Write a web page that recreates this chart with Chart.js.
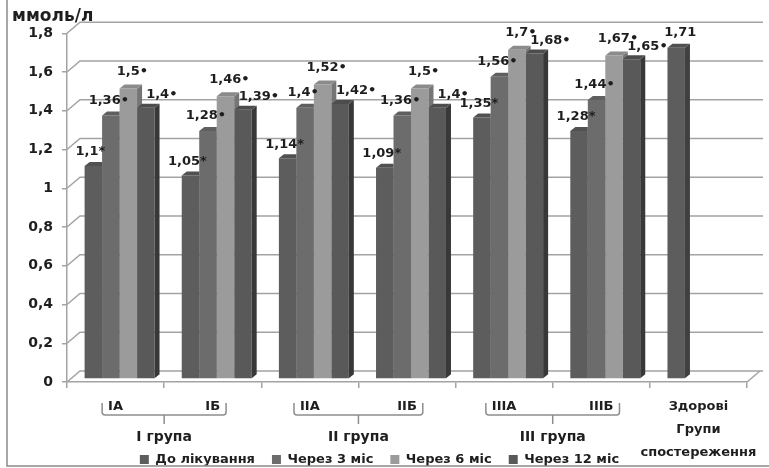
<!DOCTYPE html>
<html>
<head>
<meta charset="utf-8">
<script src="https://cdn.jsdelivr.net/npm/chart.js@4.4.1/dist/chart.umd.min.js"></script>
<style>
  html, body { margin: 0; padding: 0; background: #fff; }
  #wrap { width: 769px; height: 468px; position: relative; }
</style>
</head>
<body>
<div id="wrap"><canvas id="chart" width="769" height="468"></canvas></div>
<script>
// Categories on the x axis and their grouping
const categories = ['IA', 'IБ', 'IIA', 'IIБ', 'IIIA', 'IIIБ', 'Здорові'];
const lastCategoryLines = ['Здорові', 'Групи', 'спостереження'];
const groupNames = ['I група', 'II група', 'III група'];
const groupSpans = [[0, 1], [2, 3], [4, 5]];

// Series (ммоль/л)
const seriesNames = ['До лікування', 'Через 3 міс', 'Через 6 міс', 'Через 12 міс'];
const beforeTreatment = [1.1, 1.05, 1.14, 1.09, 1.35, 1.28, 1.71];
const after3Months = [1.36, 1.28, 1.4, 1.36, 1.56, 1.44, null];
const after6Months = [1.5, 1.46, 1.52, 1.5, 1.7, 1.67, null];
const after12Months = [1.4, 1.39, 1.42, 1.4, 1.68, 1.65, null];

// Significance marks appended to the value labels
const beforeMarks = ['*', '*', '*', '*', '*', '*', ''];
const after3Marks = ['•', '•', '•', '•', '•', '•', ''];
const after6Marks = ['•', '•', '•', '•', '•', '•', ''];
const after12Marks = ['•', '•', '•', '•', '•', '•', ''];

// Value axis
const yMin = 0;
const yMax = 1.8;
const yStep = 0.2;
const yUnit = 'ммоль/л';

const FONT = 'DejaVu Sans';
const TEXT = '#1e1e1e';
const LINE = '#a3a3a3';

// Bar colours: front, top face, side face
const palette = [
  { front: '#5d5d5d', top: '#515151', side: '#404040' },
  { front: '#6c6c6c', top: '#5f5f5f', side: '#4a4a4a' },
  { front: '#9b9b9b', top: '#8b8b8b', side: '#757575' },
  { front: '#595959', top: '#4d4d4d', side: '#383838' }
];
// Offset of each series' value label from its bar top
const labelNudgeX = [-5, -4, 2, 14];
const labelLiftY = [14, 15, 17, 13];

const seriesValues = [beforeTreatment, after3Months, after6Months, after12Months];
const seriesMarks = [beforeMarks, after3Marks, after6Marks, after12Marks];

// Perspective depth of the box (back wall) and of the bars
const WALL = { dx: 13, dy: 11 };
const BAR_SHIFT = { dx: 4, dy: 3 };
const BAR_DEPTH = { dx: 5, dy: 4 };

const fmt = v => String(Math.round(v * 100) / 100).replace('.', ',');

// Back wall grid, floor and depth shift for the bars
const boxPlugin = {
  id: 'box3d',
  beforeDatasetsDraw(chart) {
    const { ctx, chartArea: a, scales: { y } } = chart;
    ctx.save();
    ctx.strokeStyle = LINE;
    ctx.lineWidth = 1.5;
    y.ticks.forEach(t => {
      const py = y.getPixelForValue(t.value);
      ctx.beginPath();
      ctx.moveTo(a.left, py);
      ctx.lineTo(a.left + WALL.dx, py - WALL.dy);
      ctx.lineTo(a.right + WALL.dx + 3, py - WALL.dy);
      ctx.stroke();
    });
    const p0 = y.getPixelForValue(0);
    ctx.beginPath();
    ctx.moveTo(a.right, p0);
    ctx.lineTo(a.right + WALL.dx, p0 - WALL.dy);
    ctx.stroke();
    ctx.restore();

    ctx.save();
    ctx.translate(BAR_SHIFT.dx, -BAR_SHIFT.dy);
  },
  afterDatasetsDraw(chart) {
    const { ctx } = chart;
    const metas = chart.data.datasets.map((d, i) => chart.getDatasetMeta(i));
    const W = chart.width, H = chart.height;

    categories.forEach((c, ci) => {
      const bars = [];
      metas.forEach((m, si) => {
        const v = chart.data.datasets[si].data[ci];
        if (v === null || v === undefined) return;
        const p = m.data[ci].getProps(['x', 'y', 'base', 'width'], true);
        bars.push({ si, ...p });
      });
      bars.forEach((b, k) => {
        const l = b.x - b.width / 2, r = b.x + b.width / 2;
        const next = bars[k + 1];
        const col = palette[b.si];
        ctx.save();
        if (next) {
          ctx.beginPath();
          ctx.rect(-20, -20, W + 40, H + 40);
          ctx.rect(next.x - next.width / 2, next.y, next.width, next.base - next.y);
          ctx.clip('evenodd');
        }
        // side face
        ctx.fillStyle = col.side;
        ctx.beginPath();
        ctx.moveTo(r, b.y);
        ctx.lineTo(r + BAR_DEPTH.dx, b.y - BAR_DEPTH.dy);
        ctx.lineTo(r + BAR_DEPTH.dx, b.base - BAR_DEPTH.dy);
        ctx.lineTo(r, b.base);
        ctx.closePath();
        ctx.fill();
        // top face
        ctx.fillStyle = col.top;
        ctx.beginPath();
        ctx.moveTo(l, b.y);
        ctx.lineTo(l + BAR_DEPTH.dx, b.y - BAR_DEPTH.dy);
        ctx.lineTo(r + BAR_DEPTH.dx, b.y - BAR_DEPTH.dy);
        ctx.lineTo(r, b.y);
        ctx.closePath();
        ctx.fill();
        ctx.restore();
      });
    });

    // value labels
    ctx.save();
    ctx.font = 'bold 13px "' + FONT + '"';
    ctx.fillStyle = TEXT;
    ctx.textAlign = 'center';
    ctx.textBaseline = 'middle';
    metas.forEach((m, si) => {
      m.data.forEach((el, ci) => {
        const v = seriesValues[si][ci];
        if (v === null || v === undefined) return;
        const label = fmt(v) + seriesMarks[si][ci];
        const last = ci === categories.length - 1;
        const nx = last ? 2 : labelNudgeX[si];
        const ly = last ? 15 : labelLiftY[si];
        ctx.fillText(label, el.x + nx + 2, el.y - ly);
      });
    });
    ctx.restore();

    ctx.restore();
  }
};

// Two-level category labels, brackets and outer frame
const labelsPlugin = {
  id: 'groupLabels',
  afterDraw(chart) {
    const { ctx, chartArea: a, scales: { x } } = chart;
    const b = a.bottom;
    ctx.save();
    ctx.fillStyle = TEXT;
    ctx.textAlign = 'center';
    ctx.textBaseline = 'middle';
    ctx.font = 'bold 13px "' + FONT + '"';
    categories.forEach((c, i) => {
      const px = x.getPixelForValue(i);
      if (i === categories.length - 1) {
        lastCategoryLines.forEach((t, j) => ctx.fillText(t, px, b + 25 + j * 23));
      } else {
        ctx.fillText(c, px, b + 25);
      }
    });

    ctx.strokeStyle = '#8d8d8d';
    ctx.lineWidth = 1.5;
    groupSpans.forEach(([i0, i1], g) => {
      const c0 = x.getPixelForValue(i0), c1 = x.getPixelForValue(i1);
      const x0 = c0 - ctx.measureText(categories[i0]).width / 2 - 6;
      const x1 = c1 + ctx.measureText(categories[i1]).width / 2 + 6;
      const yTop = b + 21, yLine = b + 33, rad = 3;
      const mid = (c0 + c1) / 2;
      ctx.beginPath();
      ctx.moveTo(x0, yTop);
      ctx.lineTo(x0, yLine - rad);
      ctx.quadraticCurveTo(x0, yLine, x0 + rad, yLine);
      ctx.lineTo(x1 - rad, yLine);
      ctx.quadraticCurveTo(x1, yLine, x1, yLine - rad);
      ctx.lineTo(x1, yTop);
      ctx.moveTo(mid, yLine);
      ctx.lineTo(mid, b + 42);
      ctx.stroke();
    });
    ctx.font = 'bold 14px "' + FONT + '"';
    groupSpans.forEach(([i0, i1], g) => {
      const mid = (x.getPixelForValue(i0) + x.getPixelForValue(i1)) / 2;
      ctx.fillText(groupNames[g], mid, b + 55);
    });

    // frame
    ctx.strokeStyle = '#8a8a8a';
    ctx.lineWidth = 1.5;
    ctx.beginPath();
    ctx.moveTo(7, 0);
    ctx.lineTo(7, 466);
    ctx.lineTo(chart.width, 466);
    ctx.stroke();
    ctx.restore();
  }
};

const datasets = seriesNames.map((name, i) => ({
  label: name,
  data: seriesValues[i],
  backgroundColor: palette[i].front,
  borderWidth: 0,
  barPercentage: 1,
  categoryPercentage: 0.72
}));

new Chart(document.getElementById('chart'), {
  type: 'bar',
  data: { labels: categories, datasets },
  options: {
    responsive: false,
    animation: false,
    devicePixelRatio: 1,
    layout: { padding: { left: 12, right: 22, top: 0, bottom: -8 } },
    plugins: {
      title: {
        display: true,
        text: yUnit,
        align: 'start',
        color: TEXT,
        font: { family: FONT, size: 17, weight: 'bold', lineHeight: 1.25 },
        padding: { top: 6, bottom: 6 }
      },
      legend: {
        position: 'bottom',
        labels: {
          boxWidth: 9,
          boxHeight: 9,
          padding: 17,
          color: TEXT,
          font: { family: FONT, size: 13, weight: 'bold' }
        }
      },
      tooltip: { enabled: false }
    },
    scales: {
      x: {
        offset: true,
        grid: {
          offset: true,
          drawOnChartArea: false,
          drawTicks: true,
          tickLength: 6,
          color: LINE,
          lineWidth: 1.5
        },
        border: { display: true, color: LINE, width: 1.5 },
        ticks: { display: false },
        afterFit(axis) { axis.height = 54; }
      },
      y: {
        min: yMin,
        max: yMax,
        grid: {
          drawOnChartArea: false,
          drawTicks: true,
          tickLength: 5,
          color: LINE,
          lineWidth: 1.5
        },
        border: { display: true, color: LINE, width: 1.5 },
        ticks: {
          stepSize: yStep,
          padding: 9,
          color: TEXT,
          font: { family: FONT, size: 14, weight: 'bold' },
          callback: v => fmt(v)
        },
        afterFit(axis) { axis.width = 55; }
      }
    }
  },
  plugins: [boxPlugin, labelsPlugin]
});
</script>
</body>
</html>
